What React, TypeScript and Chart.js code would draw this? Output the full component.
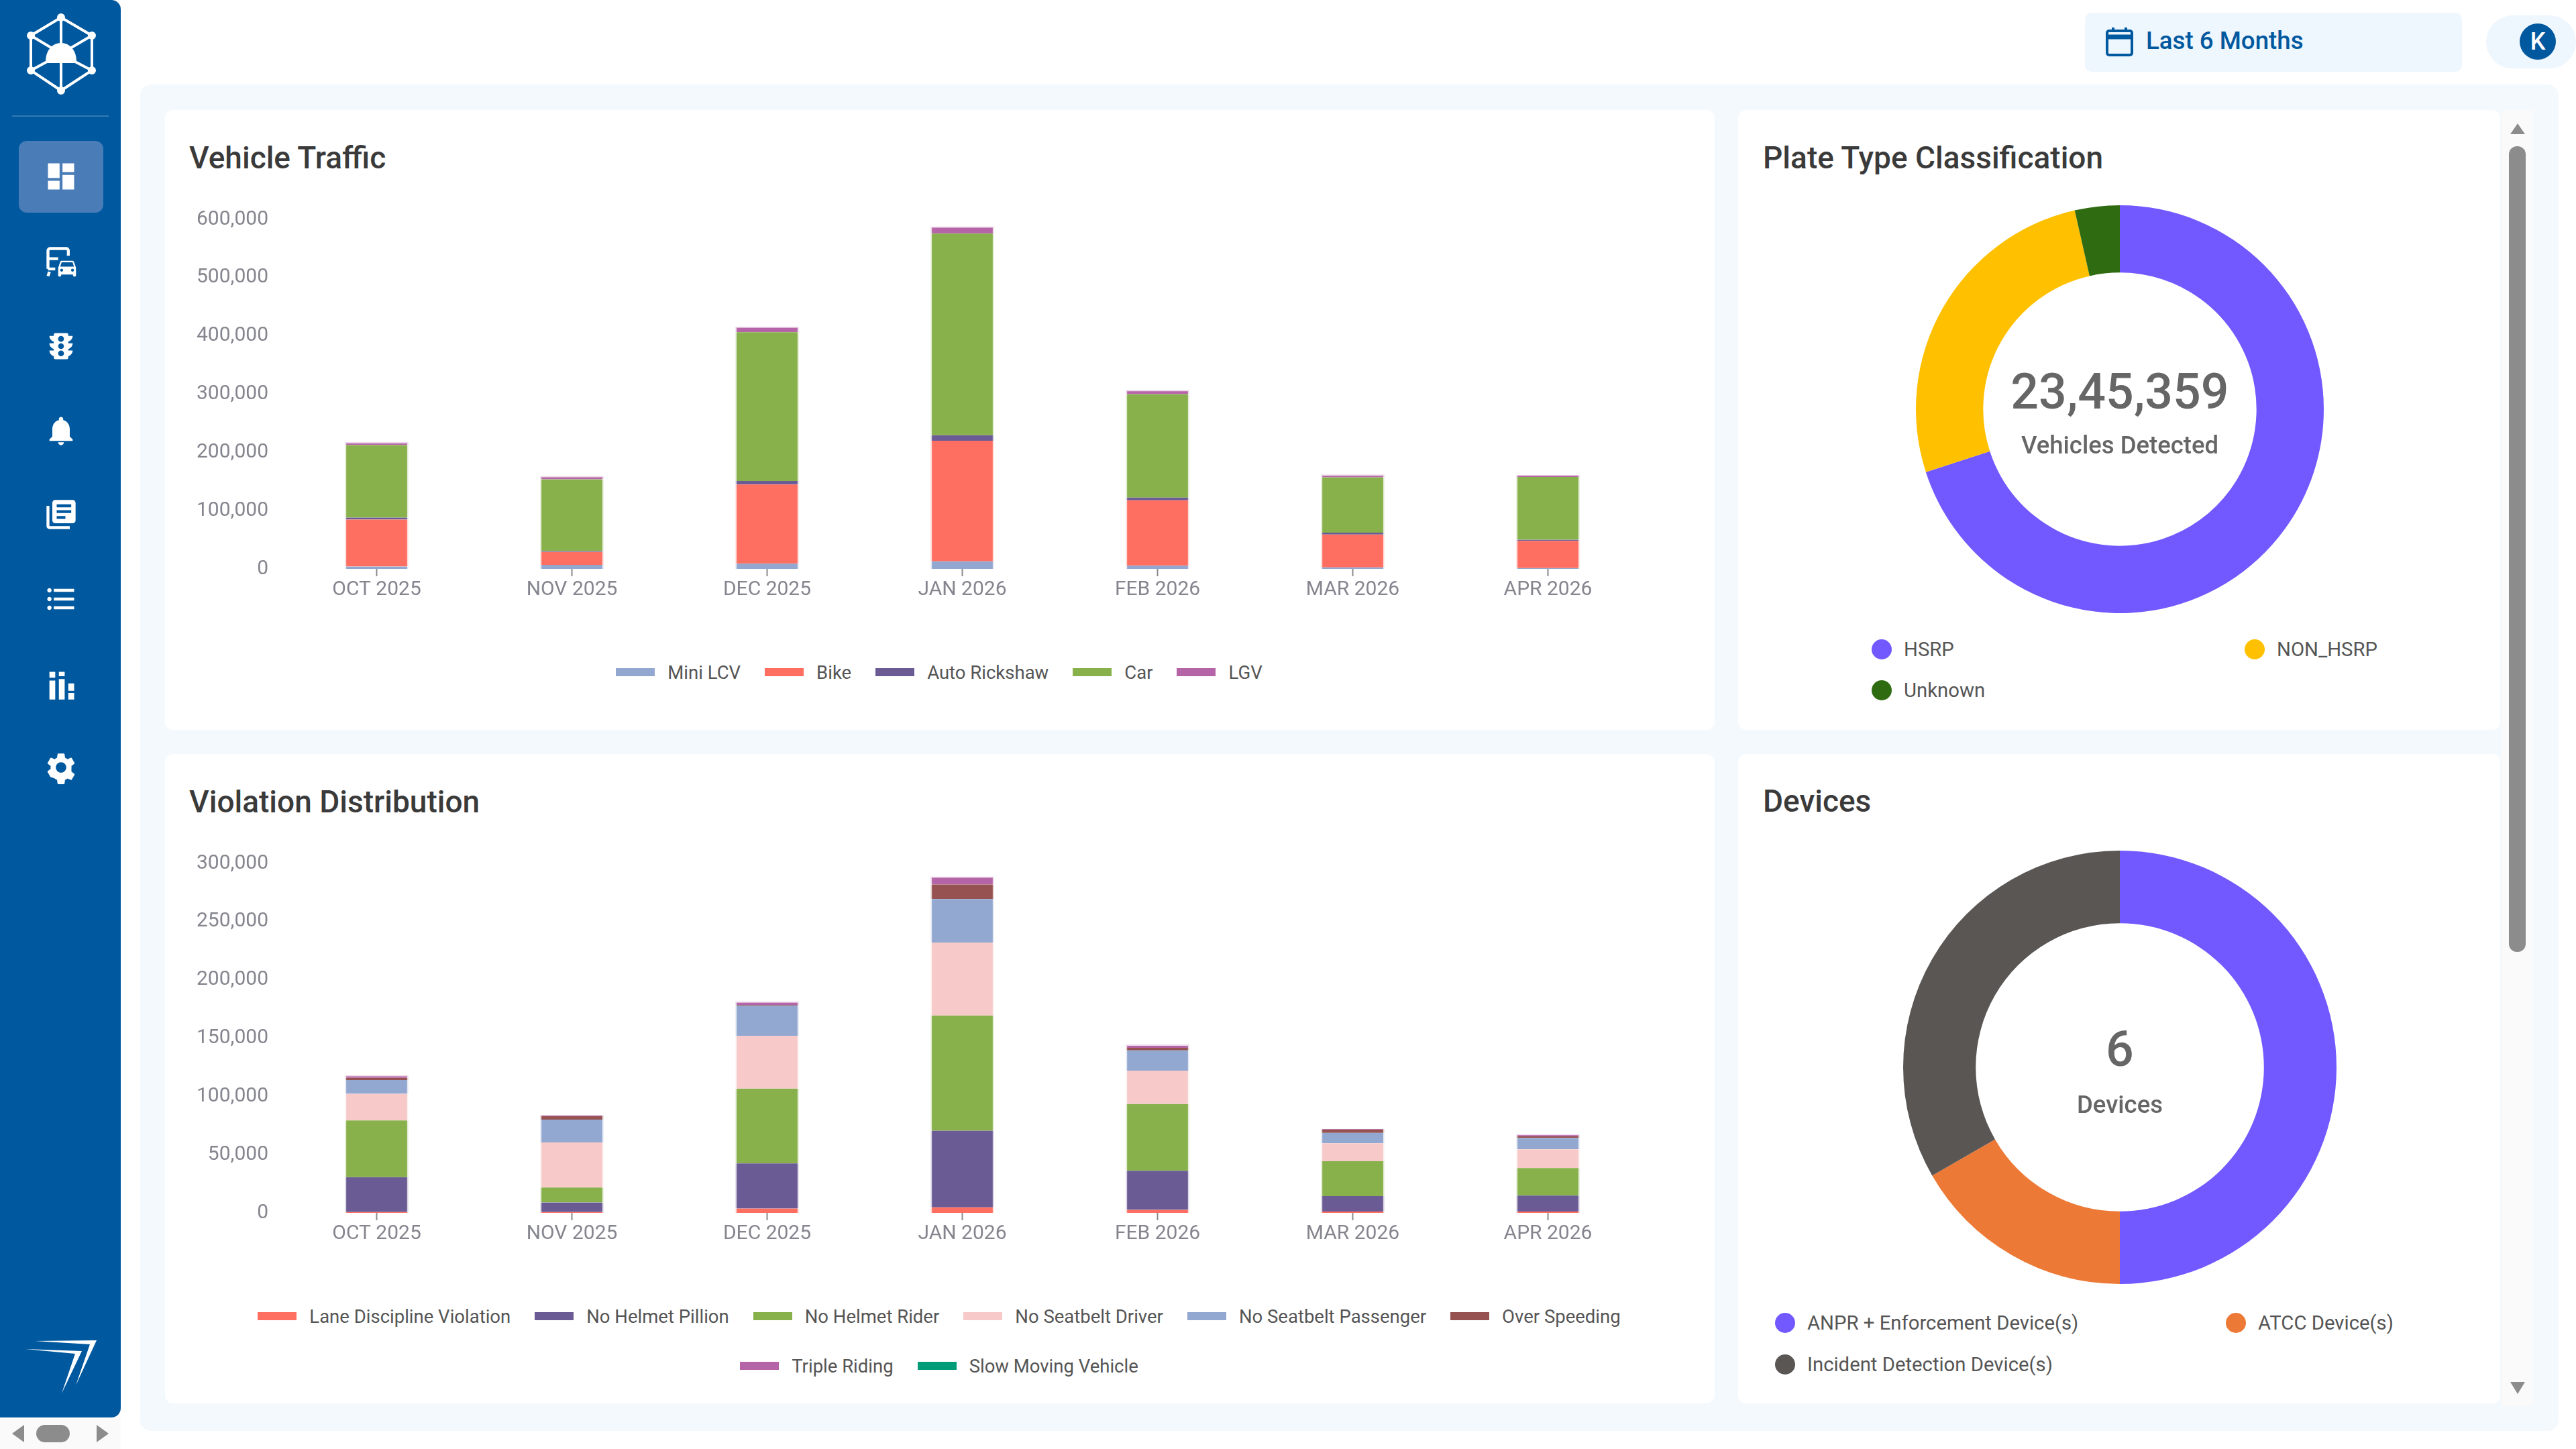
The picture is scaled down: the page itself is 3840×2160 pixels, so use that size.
import { useEffect, useRef } from "react";
import type { CSSProperties } from "react";
import { Chart, registerables } from "chart.js";

Chart.register(...registerables);

const months = ["OCT 2025", "NOV 2025", "DEC 2025", "JAN 2026", "FEB 2026", "MAR 2026", "APR 2026"];

// Vehicle Traffic
const miniLcv = [4000, 6800, 8800, 12900, 5400, 2700, 1400];
const bike = [80700, 22300, 136100, 207100, 112400, 56200, 46700];
const autoRickshaw = [3300, 1400, 6100, 9500, 4700, 3400, 2000];
const car = [124600, 123200, 255200, 346000, 177400, 94800, 107600];
const lgv = [4700, 5400, 9500, 12100, 6800, 4700, 3400];

// Violation Distribution
const laneDiscipline = [700, 700, 3700, 4800, 2600, 1100, 1100];
const noHelmetPillion = [29900, 8200, 38700, 65700, 33600, 13300, 13700];
const noHelmetRider = [48700, 12900, 64200, 98900, 57200, 29900, 23600];
const noSeatbeltDriver = [22900, 38700, 45400, 62700, 28700, 15500, 16200];
const noSeatbeltPassenger = [11800, 19600, 25900, 37300, 17400, 8800, 9600];
const overSpeeding = [1900, 2900, 400, 12500, 2200, 3000, 1500];
const tripleRiding = [2100, 800, 3000, 6700, 2600, 400, 1500];
const slowMoving = [0, 0, 0, 0, 0, 0, 0];

// Donuts
const plateLabels = ["HSRP", "NON_HSRP", "Unknown"];
const plateValues = [1642000, 620000, 83359];
const deviceLabels = ["ANPR + Enforcement Device(s)", "ATCC Device(s)", "Incident Detection Device(s)"];
const deviceValues = [3, 1, 2];

const trafficSeries = [
  { label: "Mini LCV", data: miniLcv, color: "#92A8D1" },
  { label: "Bike", data: bike, color: "#FF6F61" },
  { label: "Auto Rickshaw", data: autoRickshaw, color: "#6B5B95" },
  { label: "Car", data: car, color: "#88B04B" },
  { label: "LGV", data: lgv, color: "#B565A7" },
];
const violationSeries = [
  { label: "Lane Discipline Violation", data: laneDiscipline, color: "#FF6F61" },
  { label: "No Helmet Pillion", data: noHelmetPillion, color: "#6B5B95" },
  { label: "No Helmet Rider", data: noHelmetRider, color: "#88B04B" },
  { label: "No Seatbelt Driver", data: noSeatbeltDriver, color: "#F7CAC9" },
  { label: "No Seatbelt Passenger", data: noSeatbeltPassenger, color: "#92A8D1" },
  { label: "Over Speeding", data: overSpeeding, color: "#955251" },
  { label: "Triple Riding", data: tripleRiding, color: "#B565A7" },
  { label: "Slow Moving Vehicle", data: slowMoving, color: "#009B77" },
];
const plateColors = ["#7159FF", "#FFC000", "#2F6B10"];
const deviceColors = ["#7159FF", "#ED7936", "#5A5654"];

const FONT = "Roboto, sans-serif";
const BLUE = "#00589F";

function box(x: number, y: number, w: number, h: number, extra: CSSProperties = {}): CSSProperties {
  return { position: "absolute", left: x, top: y, width: w, height: h, ...extra };
}

function BarChart({ x, y, series, max, step, topLabel }: { x: number; y: number; series: typeof trafficSeries; max: number; step: number; topLabel: string }) {
  const ref = useRef<HTMLCanvasElement>(null);

  useEffect(() => {
    if (!ref.current) return;
    const chart = new Chart(ref.current, {
      type: "bar",
      data: {
        labels: months,
        datasets: series.map((s) => ({
          label: s.label,
          data: s.data,
          backgroundColor: s.color,
          // pale halo around the stacks, only the top segment gets it on top
          borderColor: s.color + "40",
          borderWidth: { left: 2, right: 2, top: s.label === topLabel ? 2 : 0, bottom: 0 },
          borderSkipped: false,
          barThickness: 94,
        })),
      },
      options: {
        animation: false,
        responsive: false,
        layout: { padding: { top: 27 } },
        plugins: { legend: { display: false }, tooltip: { enabled: false } },
        scales: {
          x: {
            stacked: true,
            afterFit: (s: any) => { s.height = 60; },
            grid: { offset: false, drawOnChartArea: false, tickLength: 11, tickColor: "#8a8a8a", tickWidth: 2 },
            border: { display: false },
            ticks: { color: "#85858F", font: { family: FONT, size: 30 }, padding: 2 },
          },
          y: {
            stacked: true,
            min: 0,
            max,
            afterFit: (s: any) => { s.width = 134; },
            grid: { display: false },
            border: { display: false },
            ticks: {
              stepSize: step,
              padding: 8,
              color: "#85858F",
              font: { family: FONT, size: 30 },
              callback: (v: any) => Number(v).toLocaleString("en-US"),
            },
          },
        },
      },
    });
    return () => chart.destroy();
  }, [series, max, step, topLabel]);

  return <canvas ref={ref} width={2171} height={608} style={box(x, y, 2171, 608, { display: "block" })} />;
}

function DonutChart({ cx, cy, r, cutout, labels, values, colors }: { cx: number; cy: number; r: number; cutout: string; labels: string[]; values: number[]; colors: string[] }) {
  const ref = useRef<HTMLCanvasElement>(null);

  useEffect(() => {
    if (!ref.current) return;
    const chart = new Chart(ref.current, {
      type: "doughnut",
      data: { labels, datasets: [{ data: values, backgroundColor: colors, borderWidth: 0 }] },
      options: {
        animation: false,
        responsive: false,
        cutout,
        plugins: { legend: { display: false }, tooltip: { enabled: false } },
      },
    });
    return () => chart.destroy();
  }, [labels, values, colors, cutout]);

  return <canvas ref={ref} width={r * 2} height={r * 2} style={box(cx - r, cy - r, r * 2, r * 2, { display: "block" })} />;
}

function BarLegend({ top, items }: { top: number; items: typeof trafficSeries }) {
  return (
    <div style={box(282, top, 2236, 0, { display: "flex", flexWrap: "wrap", justifyContent: "center", columnGap: 36, rowGap: 34, height: "auto" })}>
      {items.map((s) => (
        <div key={s.label} style={{ display: "flex", alignItems: "center", height: 40, fontSize: 27.5, color: "#555" }}>
          <span style={{ width: 58, height: 12, background: s.color, marginRight: 19 }} />
          {s.label}
        </div>
      ))}
    </div>
  );
}

function DonutLegend({ x0, x1, y0, y1, labels, colors }: { x0: number; x1: number; y0: number; y1: number; labels: string[]; colors: string[] }) {
  const spots = [[x0, y0], [x1, y0], [x0, y1]];
  return (
    <>
      {labels.map((l, i) => (
        <div key={l} style={{ position: "absolute", left: spots[i][0], top: spots[i][1] - 20, height: 40, display: "flex", alignItems: "center", fontSize: 29.3, color: "#555", whiteSpace: "nowrap" }}>
          <span style={{ width: 30, height: 30, borderRadius: "50%", background: colors[i], marginRight: 18 }} />
          {l}
        </div>
      ))}
    </>
  );
}

function CenterText({ cx, y, size, weight, children }: { cx: number; y: number; size: number; weight: number; children: string }) {
  return (
    <div style={{ position: "absolute", left: cx - 300, width: 600, top: y - size, height: size * 2, lineHeight: `${size * 2}px`, textAlign: "center", fontSize: size, fontWeight: weight, color: "#666" }}>
      {children}
    </div>
  );
}

function Title({ x, y, children }: { x: number; y: number; children: string }) {
  return (
    <div style={{ position: "absolute", left: x, top: y - 28, height: 60, lineHeight: "60px", fontSize: 46, fontWeight: 500, color: "#3A3A3A", whiteSpace: "nowrap" }}>
      {children}
    </div>
  );
}

const iconPaths: [number, string][] = [
  [263, "M3 13h8V3H3v10zm0 8h8v-6H3v6zm10 0h8V11h-8v10zm0-18v6h8V3h-8z"],
  [516, "M20 10h-3V8.86c1.72-.45 3-2 3-3.86h-3V4c0-.55-.45-1-1-1H8c-.55 0-1 .45-1 1v1H4c0 1.86 1.28 3.41 3 3.86V10H4c0 1.86 1.28 3.41 3 3.86V15H4c0 1.86 1.28 3.41 3 3.86V20c0 .55.45 1 1 1h8c.55 0 1-.45 1-1v-1.14c1.72-.45 3-2 3-3.86h-3v-1.14c1.72-.45 3-2 3-3.86zm-8 9c-1.11 0-2-.9-2-2s.89-2 2-2c1.1 0 2 .9 2 2s-.89 2-2 2zm0-5c-1.11 0-2-.9-2-2s.89-2 2-2c1.1 0 2 .9 2 2s-.89 2-2 2zm0-5c-1.11 0-2-.9-2-2 0-1.11.89-2 2-2 1.1 0 2 .89 2 2 0 1.1-.89 2-2 2z"],
  [642, "M12 22c1.1 0 2-.9 2-2h-4c0 1.1.89 2 2 2zm6-6v-5c0-3.07-1.64-5.64-4.5-6.32V4c0-.83-.67-1.5-1.5-1.5s-1.5.67-1.5 1.5v.68C7.63 5.36 6 7.92 6 11v5l-2 2v1h16v-1l-2-2z"],
  [767, "M4 6H2v14c0 1.1.9 2 2 2h14v-2H4V6zm16-4H8c-1.1 0-2 .9-2 2v12c0 1.1.9 2 2 2h12c1.1 0 2-.9 2-2V4c0-1.1-.9-2-2-2zm-1 9H9V9h10v2zm-4 4H9v-2h6v2zm4-8H9V5h10v2z"],
  [893, "M4 10.5c-.83 0-1.5.67-1.5 1.5s.67 1.5 1.5 1.5 1.5-.67 1.5-1.5-.67-1.5-1.5-1.5zm0-6c-.83 0-1.5.67-1.5 1.5S3.17 7.5 4 7.5 5.5 6.83 5.5 6 4.83 4.5 4 4.5zm0 12c-.83 0-1.5.68-1.5 1.5s.68 1.5 1.5 1.5 1.5-.68 1.5-1.5-.67-1.5-1.5-1.5zM7 19h14v-2H7v2zm0-6h14v-2H7v2zm0-8v2h14V5H7z"],
  [1021, "M4 3h4v4H4zM10.5 8h4v14h-4zM4 9h4v13H4zM17 11h4v5h-4zM17 17.5h4v4.5h-4zM10.5 3h4v3h-4z"],
  [1144, "M19.14 12.94c.04-.3.06-.61.06-.94 0-.32-.02-.64-.07-.94l2.03-1.58c.18-.14.23-.41.12-.61l-1.92-3.32c-.12-.22-.37-.29-.59-.22l-2.39.96c-.5-.38-1.03-.7-1.62-.94l-.36-2.54c-.04-.24-.24-.41-.48-.41h-3.84c-.24 0-.43.17-.47.41l-.36 2.54c-.59.24-1.13.57-1.62.94l-2.39-.96c-.22-.08-.47 0-.59.22L2.74 8.87c-.12.21-.08.47.12.61l2.03 1.58c-.05.3-.09.63-.09.94s.02.64.07.94l-2.03 1.58c-.18.14-.23.41-.12.61l1.92 3.32c.12.22.37.29.59.22l2.39.96c.5.38 1.03.7 1.62.94l.36 2.54c.05.24.24.41.48.41h3.84c.24 0 .44-.17.47-.41l.36-2.54c.59-.24 1.13-.56 1.62-.94l2.39.96c.22.08.47 0 .59-.22l1.92-3.32c.12-.22.07-.47-.12-.61l-2.01-1.58zM12 15.6c-1.98 0-3.6-1.62-3.6-3.6s1.62-3.6 3.6-3.6 3.6 1.62 3.6 3.6-1.62 3.6-3.6 3.6z"],
];
const carPath = "M18.92 6.01C18.72 5.42 18.16 5 17.5 5h-11c-.66 0-1.21.42-1.42 1.01L3 12v8c0 .55.45 1 1 1h1c.55 0 1-.45 1-1v-1h12v1c0 .55.45 1 1 1h1c.55 0 1-.45 1-1v-8l-2.08-5.99zM6.5 16c-.83 0-1.5-.67-1.5-1.5S5.67 13 6.5 13s1.5.67 1.5 1.5S7.33 16 6.5 16zm11 0c-.83 0-1.5-.67-1.5-1.5s.67-1.5 1.5-1.5 1.5.67 1.5 1.5-.67 1.5-1.5 1.5zM5 11l1.5-4.5h11L19 11H5z";

function Sidebar() {
  return (
    <div style={box(0, 0, 180, 2113, { background: BLUE, borderRadius: "0 14px 14px 0" })}>
      <svg style={box(0, 0, 180, 180)} viewBox="0 0 180 180" fill="none" stroke="#fff" strokeWidth="4">
        <path d="M91 26L137 53V105L91 135L46 105V53Z" />
        <path d="M91 26V135M46 53L91 80L137 53M46 105L70 92M137 105L112 92" />
        <path d="M70 92c0-16 9-26 21-26s21 10 21 26z" fill="#fff" />
        <circle cx="91" cy="26" r="4" fill="#fff" /><circle cx="137" cy="53" r="4" fill="#fff" /><circle cx="137" cy="105" r="4" fill="#fff" />
        <circle cx="91" cy="135" r="4" fill="#fff" /><circle cx="46" cy="105" r="4" fill="#fff" /><circle cx="46" cy="53" r="4" fill="#fff" />
      </svg>
      <div style={box(18, 172, 144, 2, { background: "rgba(255,255,255,0.2)" })} />
      <div style={box(28, 210, 126, 107, { background: "#4A7DB8", borderRadius: 12 })} />
      {iconPaths.map(([cy, d]) => (
        <svg key={cy} style={box(91 - 26, cy - 26, 52, 52)} viewBox="0 0 24 24" fill="#fff"><path d={d} /></svg>
      ))}
      <svg style={box(91 - 26, 390 - 26, 52, 52)} viewBox="0 0 24 24">
        <path d="M4 19l-1 3M3 17V4.5c0-1 .8-1.5 1.5-1.5h11c.8 0 1.5.6 1.5 1.5V8M3 17h5M3 10h7" fill="none" stroke="#fff" strokeWidth="2" />
        <g transform="translate(8 8) scale(.68)"><path d={carPath} fill="#fff" /></g>
      </svg>
      <svg style={box(0, 1980, 180, 110)} viewBox="0 0 180 110" fill="#fff">
        <path d="M52 19L144 18L113 85L134 24Z" />
        <path d="M38 31L122 34L92 97L112 38Z" />
      </svg>
    </div>
  );
}

function Scrollbars() {
  return (
    <>
      <div style={box(0, 2113, 180, 47, { background: "#FAFAFA" })} />
      <svg style={box(0, 2113, 180, 47)} viewBox="0 0 180 47" fill="#8C8C8C">
        <path d="M18 24L36 11V37Z" /><path d="M144 11L162 24L144 37Z" />
        <rect x="54" y="11" width="50" height="26" rx="13" />
      </svg>
      <div style={box(3729, 164, 47, 1931, { background: "#FAFAFA" })} />
      <svg style={box(3729, 164, 47, 1931)} viewBox="0 0 47 1931" fill="#8C8C8C">
        <path d="M13 36L24 20L35 36Z" /><path d="M13 1896L35 1896L24 1914Z" />
        <rect x="11" y="54" width="25" height="1201" rx="12" />
      </svg>
    </>
  );
}

export default function App() {
  useEffect(() => {
    document.body.style.margin = "0";
  }, []);

  const card = { background: "#fff", borderRadius: 12 };

  return (
    <div style={{ position: "relative", width: 3840, height: 2160, overflow: "hidden", background: "#fff", fontFamily: FONT }}>
      <Sidebar />

      {/* header */}
      <div style={box(3108, 19, 562, 88, { background: "#EEF6FE", borderRadius: 10 })} />
      <svg style={box(3136, 38, 48, 48)} viewBox="0 0 48 48" fill="none" stroke={BLUE} strokeWidth="4">
        <rect x="5" y="8" width="37" height="36" rx="3" />
        <path d="M5 17H42" strokeWidth="7" />
        <path d="M14 3V10M33 3V10" />
      </svg>
      <div style={{ position: "absolute", left: 3199, top: 31, height: 60, lineHeight: "60px", fontSize: 36.7, fontWeight: 500, color: BLUE, whiteSpace: "nowrap" }}>Last 6 Months</div>
      <div style={box(3706, 23, 134, 79, { background: "#EEF6FE", borderRadius: 40 })} />
      <div style={box(3756, 35, 54, 54, { background: BLUE, borderRadius: "50%", color: "#fff", textAlign: "center", lineHeight: "54px", fontSize: 36, fontWeight: 500 })}>K</div>

      {/* panels */}
      <div style={box(209, 126, 3605, 2007, { background: "#F3F9FD", borderRadius: 16 })} />
      <div style={box(246, 164, 2310, 924, card)} />
      <div style={box(2591, 164, 1136, 924, card)} />
      <div style={box(246, 1124, 2310, 968, card)} />
      <div style={box(2591, 1124, 1136, 968, card)} />
      <Scrollbars />

      <Title x={282} y={233}>Vehicle Traffic</Title>
      <BarChart x={282} y={300} series={trafficSeries} max={600000} step={100000} topLabel="LGV" />
      <BarLegend top={982} items={trafficSeries} />

      <Title x={2628} y={233}>Plate Type Classification</Title>
      <DonutChart cx={3160} cy={610} r={304} cutout="67%" labels={plateLabels} values={plateValues} colors={plateColors} />
      <CenterText cx={3160} y={584} size={73.5} weight={500}>23,45,359</CenterText>
      <CenterText cx={3160} y={663} size={36.5} weight={500}>Vehicles Detected</CenterText>
      <DonutLegend x0={2790} x1={3346} y0={968} y1={1029} labels={plateLabels} colors={plateColors} />

      <Title x={282} y={1193}>Violation Distribution</Title>
      <BarChart x={282} y={1260} series={violationSeries} max={300000} step={50000} topLabel="Triple Riding" />
      <BarLegend top={1942} items={violationSeries} />

      <Title x={2628} y={1192}>Devices</Title>
      <DonutChart cx={3160} cy={1591} r={323} cutout="66.5%" labels={deviceLabels} values={deviceValues} colors={deviceColors} />
      <CenterText cx={3160} y={1564} size={73.5} weight={500}>6</CenterText>
      <CenterText cx={3160} y={1646} size={36.5} weight={500}>Devices</CenterText>
      <DonutLegend x0={2646} x1={3318} y0={1972} y1={2034} labels={deviceLabels} colors={deviceColors} />
    </div>
  );
}
